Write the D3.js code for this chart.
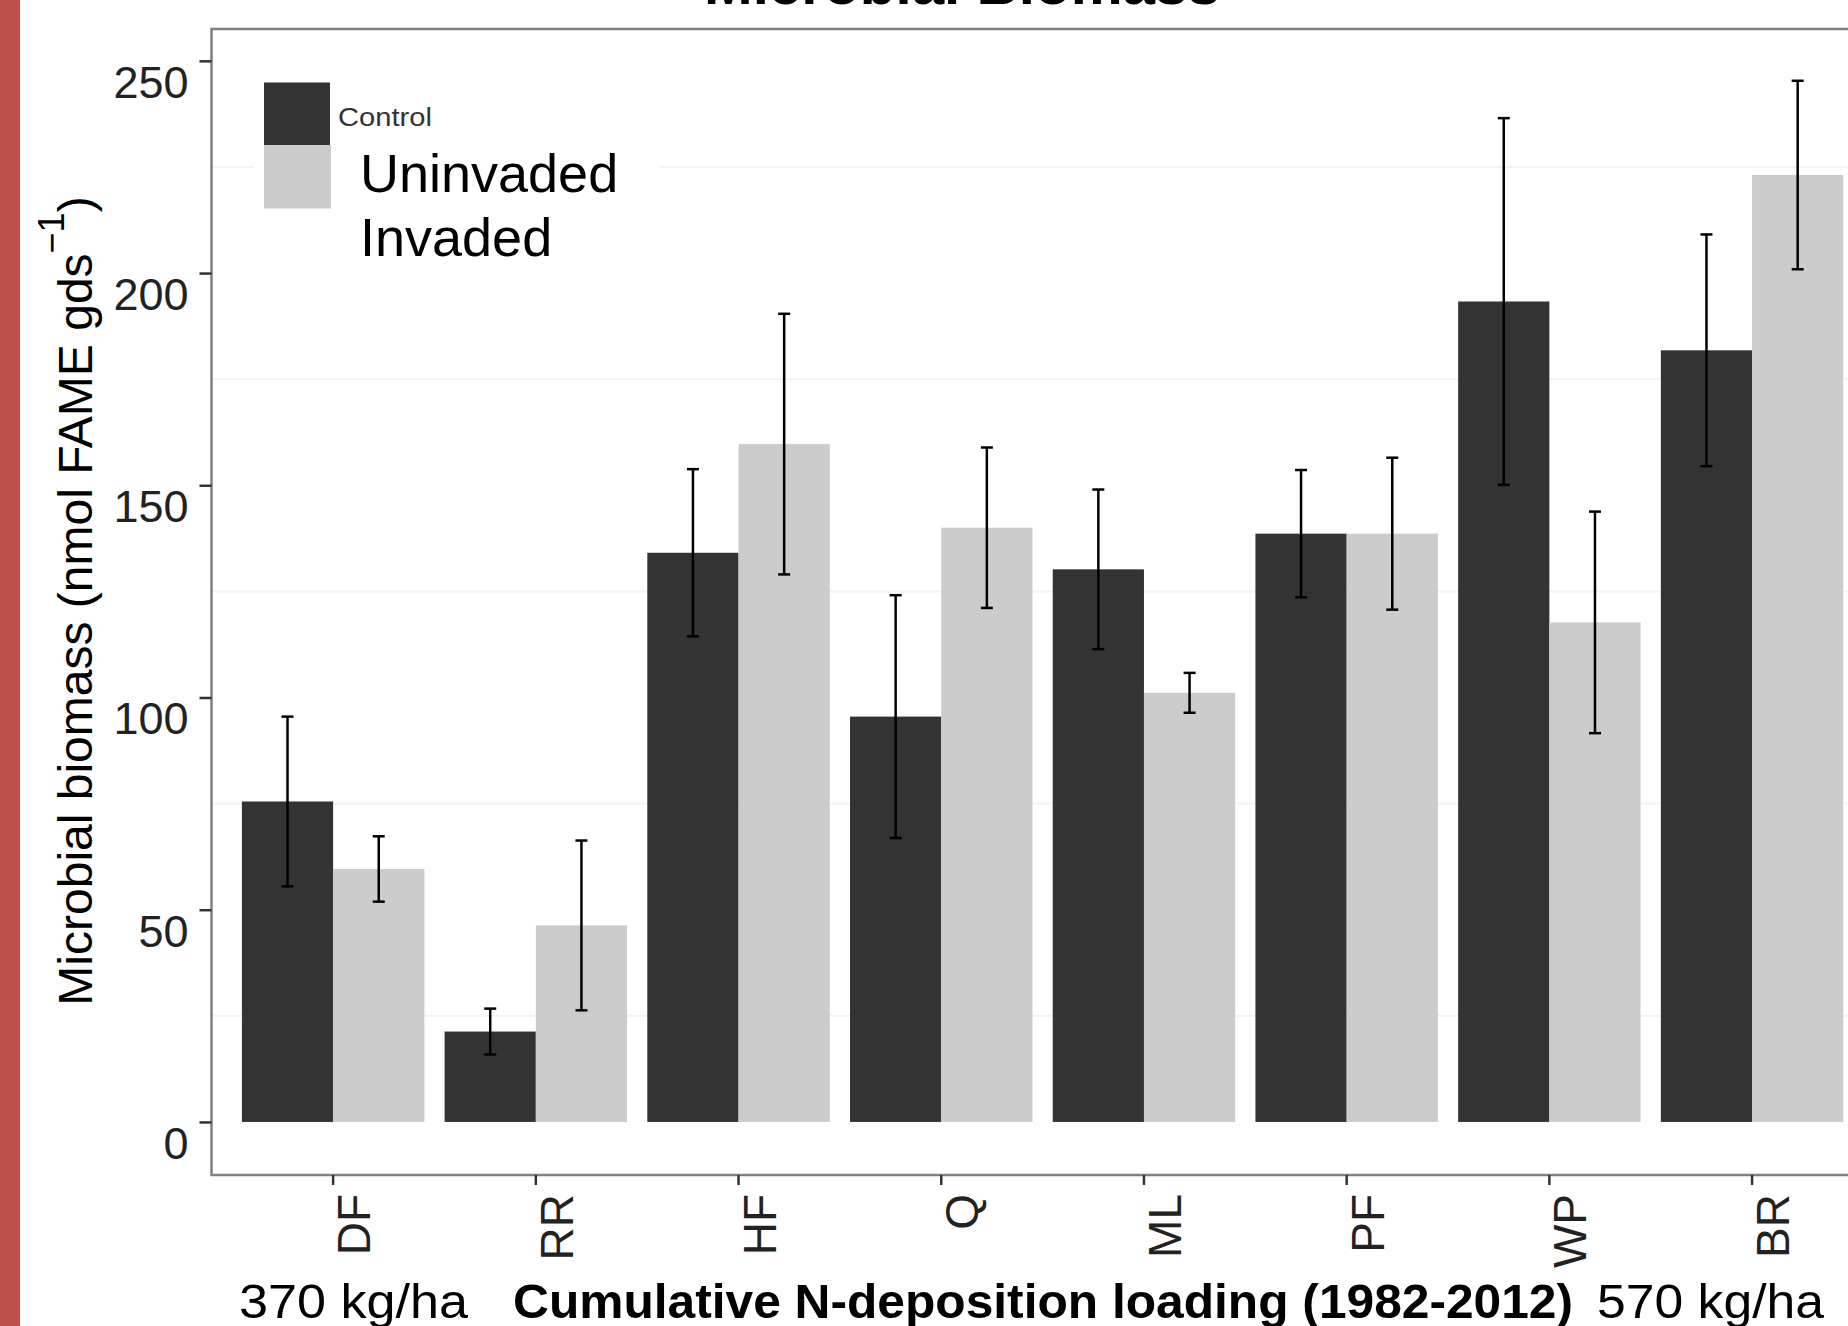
<!DOCTYPE html>
<html>
<head>
<meta charset="utf-8">
<script src="https://cdn.jsdelivr.net/npm/d3@7"></script>
<style>
  html, body { margin: 0; padding: 0; background: #fff; }
  svg { display: block; font-family: "Liberation Sans", Arial, sans-serif; }
</style>
</head>
<body>
<div id="chart"></div>
<script>
// sites ordered by cumulative N-deposition
const sites = ["DF", "RR", "HF", "Q", "ML", "PF", "WP", "BR"];
const groups = ["Control", "Invaded"];
const controlMean = [75.5, 21.3, 134.1, 95.5, 130.2, 138.6, 193.3, 181.8];
const controlErr = [20.0, 5.4, 19.7, 28.6, 18.8, 15.0, 43.2, 27.3];
const invadedMean = [59.6, 46.3, 159.7, 140.0, 101.1, 138.6, 117.7, 223.1];
const invadedErr = [7.7, 20.0, 30.7, 18.9, 4.7, 17.9, 26.1, 22.2];
const yTicks = [0, 50, 100, 150, 200, 250];
const yMinor = [25, 75, 125, 175, 225];

const width = 1848;
const height = 1326;
const panel = { left: 211.5, right: 1873.7, top: 29, bottom: 1175 };
const fills = { Control: "#333333", Invaded: "#cccccc" };

const rows = [];
sites.forEach((s, i) => {
  rows.push({ site: s, group: "Control", mean: controlMean[i], err: controlErr[i] });
  rows.push({ site: s, group: "Invaded", mean: invadedMean[i], err: invadedErr[i] });
});

const svg = d3.select("#chart")
  .append("svg")
  .attr("width", width)
  .attr("height", height);

svg.append("rect")
  .attr("width", width)
  .attr("height", height)
  .attr("fill", "#fff");

// red strip at the left edge
svg.append("rect")
  .attr("x", 0).attr("y", 0)
  .attr("width", 20).attr("height", height)
  .attr("fill", "#c0504d");

const x = d3.scaleBand()
  .domain(sites)
  .range([panel.left, panel.right])
  .paddingInner(0.1)
  .paddingOuter(0.15);

const xInner = d3.scaleBand()
  .domain(groups)
  .range([0, x.bandwidth()])
  .padding(0);

const y = d3.scaleLinear()
  .domain([-12.5, 257.5])
  .range([panel.bottom, panel.top]);

// faint grid
svg.append("g")
  .selectAll("line")
  .data(yMinor)
  .join("line")
  .attr("x1", panel.left).attr("x2", panel.right)
  .attr("y1", d => y(d)).attr("y2", d => y(d))
  .attr("stroke", "#f3f3f3")
  .attr("stroke-width", 2);

// bars
svg.append("g")
  .selectAll("rect")
  .data(rows)
  .join("rect")
  .attr("x", d => x(d.site) + xInner(d.group))
  .attr("y", d => y(d.mean))
  .attr("width", xInner.bandwidth())
  .attr("height", d => y(0) - y(d.mean))
  .attr("fill", d => fills[d.group]);

// error bars
const eb = svg.append("g")
  .selectAll("g")
  .data(rows)
  .join("g")
  .attr("stroke", "#000")
  .attr("stroke-width", 2.5);

const cx = d => x(d.site) + xInner(d.group) + xInner.bandwidth() / 2;

eb.append("line")
  .attr("x1", cx).attr("x2", cx)
  .attr("y1", d => y(d.mean + d.err))
  .attr("y2", d => y(d.mean - d.err));
eb.append("line")
  .attr("x1", d => cx(d) - 6).attr("x2", d => cx(d) + 6)
  .attr("y1", d => y(d.mean + d.err))
  .attr("y2", d => y(d.mean + d.err));
eb.append("line")
  .attr("x1", d => cx(d) - 6).attr("x2", d => cx(d) + 6)
  .attr("y1", d => y(d.mean - d.err))
  .attr("y2", d => y(d.mean - d.err));

// panel border
svg.append("rect")
  .attr("x", panel.left).attr("y", panel.top)
  .attr("width", panel.right - panel.left)
  .attr("height", panel.bottom - panel.top)
  .attr("fill", "none")
  .attr("stroke", "#808080")
  .attr("stroke-width", 2.5);

// y axis
const yAxis = svg.append("g")
  .attr("transform", `translate(${panel.left}, 0)`)
  .call(d3.axisLeft(y).tickValues(yTicks).tickSize(12).tickPadding(11));
yAxis.select(".domain").remove();
yAxis.selectAll(".tick line").attr("stroke", "#333").attr("stroke-width", 2.5);
yAxis.selectAll(".tick text")
  .attr("y", 22)
  .attr("fill", "#222")
  .style("font-size", "45px")
  .style("font-family", "'Liberation Sans', Arial, sans-serif");

// x axis
const xAxis = svg.append("g")
  .attr("transform", `translate(0, ${panel.bottom})`)
  .call(d3.axisBottom(x).tickSize(10));
xAxis.select(".domain").remove();
xAxis.selectAll(".tick line").attr("stroke", "#333").attr("stroke-width", 2.5);
xAxis.selectAll(".tick text")
  .attr("x", 0).attr("y", 0)
  .attr("dy", "0.35em")
  .attr("transform", "translate(21, 19) rotate(-90)")
  .attr("text-anchor", "end")
  .attr("fill", "#222")
  .style("font-size", "46px")
  .style("font-family", "'Liberation Sans', Arial, sans-serif");

// y axis title
const yTitle = svg.append("text")
  .attr("transform", "translate(92, 601) rotate(-90)")
  .attr("text-anchor", "middle")
  .attr("fill", "#000")
  .style("font-size", "48px");
yTitle.append("tspan").text("Microbial biomass (nmol FAME gds");
yTitle.append("tspan").attr("dy", -28).style("font-size", "36px").text("\u22121");
yTitle.append("tspan").attr("dy", 28).text(")");

// chart title (mostly cut off at the top)
svg.append("text")
  .attr("x", 704).attr("y", 4)
  .attr("textLength", 516)
  .attr("lengthAdjust", "spacingAndGlyphs")
  .attr("font-weight", "bold")
  .style("font-size", "56px")
  .text("Microbial Biomass");

// legend
const legend = svg.append("g");
legend.append("rect")
  .attr("x", 254).attr("y", 70)
  .attr("width", 406).attr("height", 192)
  .attr("fill", "#fff");
legend.append("rect")
  .attr("x", 264).attr("y", 82.5)
  .attr("width", 66).attr("height", 62.5)
  .attr("fill", fills.Control);
legend.append("rect")
  .attr("x", 264).attr("y", 145)
  .attr("width", 67).attr("height", 63.5)
  .attr("fill", fills.Invaded);
legend.append("text")
  .attr("x", 338).attr("y", 126)
  .attr("textLength", 94)
  .attr("lengthAdjust", "spacingAndGlyphs")
  .attr("fill", "#333")
  .style("font-size", "25px")
  .text("Control");
legend.append("text")
  .attr("x", 360).attr("y", 192)
  .attr("fill", "#000")
  .style("font-size", "54px")
  .text("Uninvaded");
legend.append("text")
  .attr("x", 360).attr("y", 256)
  .attr("fill", "#000")
  .style("font-size", "54px")
  .text("Invaded");

// bottom annotation
svg.append("text")
  .attr("x", 239).attr("y", 1318)
  .attr("textLength", 229)
  .attr("lengthAdjust", "spacingAndGlyphs")
  .style("font-size", "48px")
  .text("370 kg/ha");
svg.append("text")
  .attr("x", 513).attr("y", 1318)
  .attr("textLength", 1060)
  .attr("lengthAdjust", "spacingAndGlyphs")
  .attr("font-weight", "bold")
  .style("font-size", "48px")
  .text("Cumulative N-deposition loading (1982-2012)");
svg.append("text")
  .attr("x", 1597).attr("y", 1318)
  .attr("textLength", 227)
  .attr("lengthAdjust", "spacingAndGlyphs")
  .style("font-size", "48px")
  .text("570 kg/ha");
</script>
</body>
</html>
